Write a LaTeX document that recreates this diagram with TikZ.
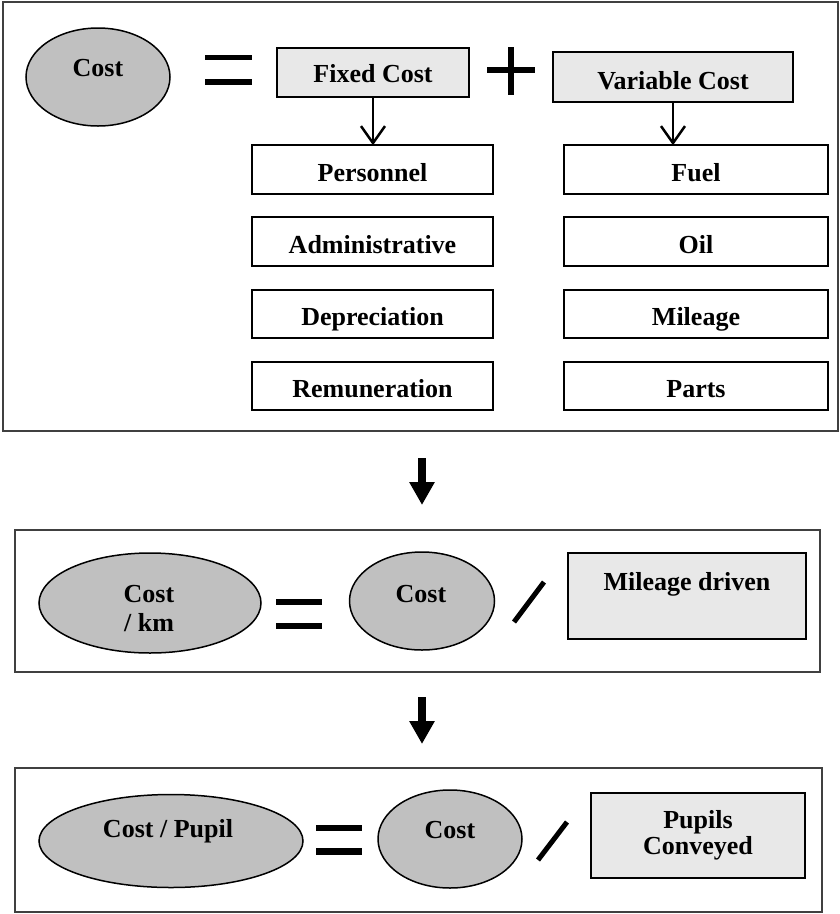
\documentclass[tikz,border=0pt]{standalone}
\usepackage{fontspec}
\setmainfont{Liberation Serif}
\usetikzlibrary{shapes.geometric,arrows.meta}
\definecolor{ovalgray}{HTML}{C0C0C0}
\definecolor{boxgray}{HTML}{E8E8E8}
\definecolor{panelline}{HTML}{404040}
\begin{document}
\begin{tikzpicture}[x=1pt,y=-1pt,
  font=\fontsize{26}{29}\selectfont\bfseries,
  panel/.style={draw=panelline, line width=1.3pt, inner sep=0pt, outer sep=0pt},
  oval/.style={ellipse, draw=black, line width=1.5pt, fill=ovalgray, inner sep=0pt, outer sep=0pt},
  graybox/.style={draw=black, line width=1.8pt, fill=boxgray, inner sep=0pt, outer sep=0pt},
  itembox/.style={draw=black, line width=1.8pt, fill=white, inner sep=0pt, outer sep=0pt,
    minimum height=48.5pt, text height=23pt, text depth=0pt},
  leftitem/.style={itembox, minimum width=241pt},
  rightitem/.style={itembox, minimum width=264pt},
  lbl/.style={inner sep=0pt, anchor=base},
  opbar/.style={line width=5.5pt},
  thinarrow/.style={line width=2.5pt, -{Straight Barb[length=17pt,width=24pt,line width=2.5pt]}},
  blockarrow/.style={line width=8pt, -{Triangle[length=23pt,width=24pt]}}
]
\useasboundingbox (0,0) rectangle (840,914);

% panels
\node[panel, minimum width=835pt, minimum height=429pt] (p1) at (420.5,216.5) {};
\node[panel, minimum width=805pt, minimum height=142pt] (p2) at (417.5,601) {};
\node[panel, minimum width=807pt, minimum height=144pt] (p3) at (418.5,840) {};

% ---- top panel ----
\node[oval, minimum width=144pt, minimum height=98pt] (cost1) at (98,77) {};
\node[lbl] (cost1t) at (98,76) {Cost};

\draw[opbar] (205,57.5) -- (252,57.5);
\draw[opbar] (205,82) -- (252,82);

\node[graybox, minimum width=192pt, minimum height=49pt, text height=20pt, text depth=0pt] (fixed) at (373,72.5) {Fixed Cost};

\draw[opbar] (487,70) -- (535,70);
\draw[opbar] (511,47) -- (511,95);

\node[graybox, minimum width=240pt, minimum height=50pt, text height=24pt, text depth=0pt] (var) at (673,77) {Variable Cost};

\node[leftitem] (pers) at (372.5,169.5) {Personnel};
\node[leftitem] (adm)  at (372.5,241.5) {Administrative};
\node[leftitem] (dep)  at (372.5,314) {Depreciation};
\node[leftitem] (rem)  at (372.5,386) {Remuneration};

\node[rightitem] (fuel) at (696,169.5) {Fuel};
\node[rightitem] (oil)  at (696,241.5) {Oil};
\node[rightitem] (mil)  at (696,314) {Mileage};
\node[rightitem] (parts) at (696,386) {Parts};

\draw[thinarrow] (fixed.south) -- (fixed.south |- pers.north);
\draw[thinarrow] (var.south) -- (var.south |- fuel.north);

% ---- block arrows ----
\coordinate (a1s) at (422,458);
\coordinate (a1e) at (422,505);
\draw[blockarrow] (a1s) -- (a1e);
\coordinate (a2s) at (422,697);
\coordinate (a2e) at (422,744);
\draw[blockarrow] (a2s) -- (a2e);

% ---- middle panel ----
\node[oval, minimum width=222pt, minimum height=100pt] (costkm) at (150,603) {};
\node[lbl] (costkmt1) at (149,602) {Cost};
\node[lbl] (costkmt2) at (149,631) {/ km};

\draw[line width=6pt] (276,601.5) -- (322,601.5);
\draw[line width=6pt] (276,626) -- (322,626);

\node[oval, minimum width=145pt, minimum height=98pt] (cost2) at (422,601) {};
\node[lbl] (cost2t) at (421,602) {Cost};

\draw[line width=5pt] (514,622) -- (544,582);

\node[graybox, minimum width=238pt, minimum height=86pt] (mdriven) at (687,596) {};
\node[lbl] (mdrivent) at (687,590) {Mileage driven};

% ---- bottom panel ----
\node[oval, minimum width=264pt, minimum height=93pt] (costpupil) at (171,841) {};
\node[lbl] (costpupilt) at (168,837) {Cost / Pupil};

\draw[line width=6.5pt] (316,828) -- (362,828);
\draw[line width=6.5pt] (316,851.5) -- (362,851.5);

\node[oval, minimum width=144pt, minimum height=98pt] (cost3) at (450,839) {};
\node[lbl] (cost3t) at (450,838) {Cost};

\draw[line width=5pt] (538,860) -- (567,822);

\node[graybox, minimum width=214pt, minimum height=85pt] (pupils) at (698,835.5) {};
\node[lbl] (pupilst1) at (698,828) {Pupils};
\node[lbl] (pupilst2) at (698,854) {Conveyed};
\end{tikzpicture}
\end{document}
